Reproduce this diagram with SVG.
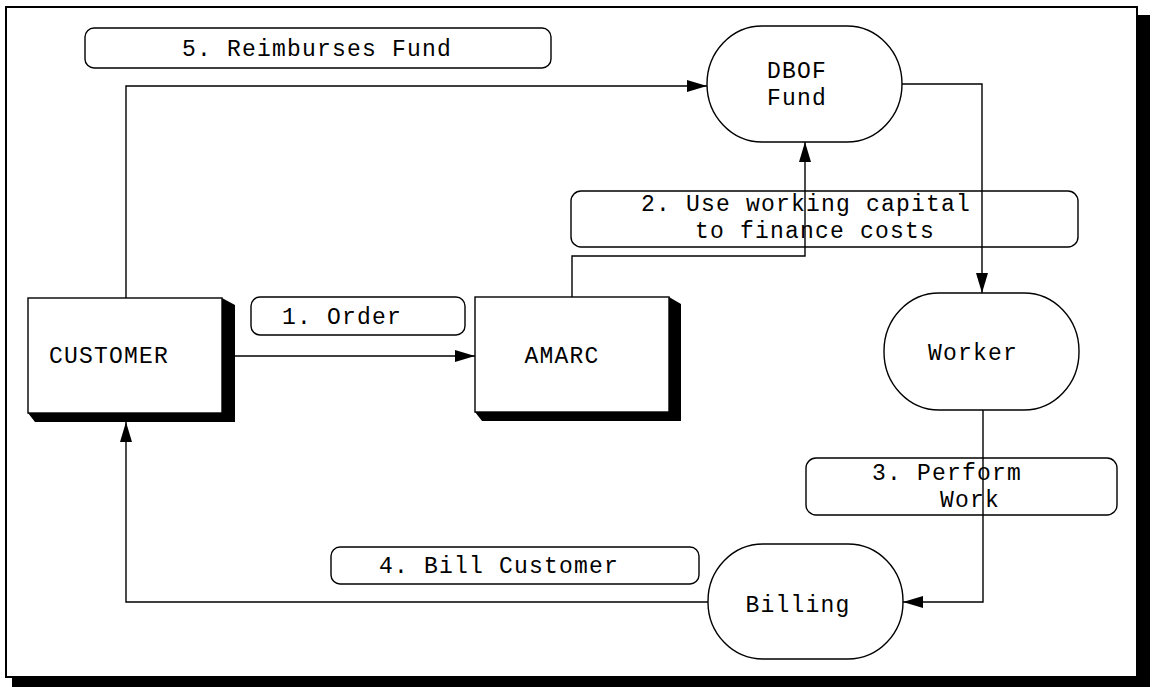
<svg xmlns="http://www.w3.org/2000/svg" width="1152" height="687" viewBox="0 0 1152 687">
<style>
  .t { font-family: "Liberation Mono", "Courier New", monospace; font-size: 23px; letter-spacing: 1.2px; fill: #000; text-anchor: middle; }
  .lbl { fill: none; stroke: #000; stroke-width: 1.4; }
  .node { fill: #fff; stroke: #000; stroke-width: 1.4; }
  .shadow { fill: #000; stroke: none; }
  .conn { fill: none; stroke: #000; stroke-width: 1.4; }
</style>
<defs>
  <marker id="arr" markerUnits="userSpaceOnUse" markerWidth="20" markerHeight="12" refX="20" refY="6" orient="auto">
    <path d="M0,0 L20,6 L0,12 z" fill="#000"/>
  </marker>
</defs>
<rect width="1152" height="687" fill="#fff"/>
<g id="frame">
  <polygon class="shadow" points="1137,15 1150,15 1150,687 12,687 12,677 1137,677"/>
  <rect x="6" y="7" width="1131" height="670" fill="none" stroke="#000" stroke-width="2"/>
</g>
<g id="labels">
  <g id="label5">
    <rect class="lbl" x="85" y="28" width="466" height="40" rx="9"/>
    <text class="t" x="317" y="56">5. Reimburses Fund</text>
  </g>
  <g id="label1">
    <rect class="lbl" x="251" y="297" width="214" height="38" rx="9"/>
    <text class="t" x="342" y="324">1. Order</text>
  </g>
  <g id="label2">
    <rect class="lbl" x="571" y="191" width="507" height="56" rx="10"/>
    <text class="t" x="806" y="211">2. Use working capital</text>
    <text class="t" x="815" y="238">to finance costs</text>
  </g>
  <g id="label3">
    <rect class="lbl" x="806" y="458" width="311" height="57" rx="10"/>
    <text class="t" x="947" y="480">3. Perform</text>
    <text class="t" x="970" y="507">Work</text>
  </g>
  <g id="label4">
    <rect class="lbl" x="331" y="547" width="368" height="37" rx="9"/>
    <text class="t" x="499" y="573">4. Bill Customer</text>
  </g>
</g>
<g id="connectors">
  <path class="conn" d="M235,356 H475" marker-end="url(#arr)"/>
  <path class="conn" d="M572,297 V256 H805 V142" marker-end="url(#arr)"/>
  <path class="conn" d="M902,84 H982 V293" marker-end="url(#arr)"/>
  <path class="conn" d="M983,410 V602 H903" marker-end="url(#arr)"/>
  <path class="conn" d="M708,602 H126 V422" marker-end="url(#arr)"/>
  <path class="conn" d="M126,298 V86 H707" marker-end="url(#arr)"/>
</g>
<g id="customer">
  <polygon class="shadow" points="222,298 235,305 235,422 35,422 28,413 222,413"/>
  <rect class="node" x="28" y="298" width="194" height="115"/>
  <text class="t" x="109" y="363">CUSTOMER</text>
</g>
<g id="amarc">
  <polygon class="shadow" points="669,297 681,304 681,421 482,421 475,412 669,412"/>
  <rect class="node" x="475" y="297" width="194" height="115"/>
  <text class="t" x="562" y="363">AMARC</text>
</g>
<g id="dbof">
  <rect class="node" x="707" y="26" width="195" height="116" rx="55" ry="58"/>
  <text class="t" x="797" y="78">DBOF</text>
  <text class="t" x="797" y="105">Fund</text>
</g>
<g id="worker">
  <rect class="node" x="884" y="293" width="195" height="117" rx="55" ry="58"/>
  <text class="t" x="973" y="360">Worker</text>
</g>
<g id="billing">
  <rect class="node" x="708" y="544" width="195" height="115" rx="55" ry="57"/>
  <text class="t" x="798" y="612">Billing</text>
</g>
</svg>
